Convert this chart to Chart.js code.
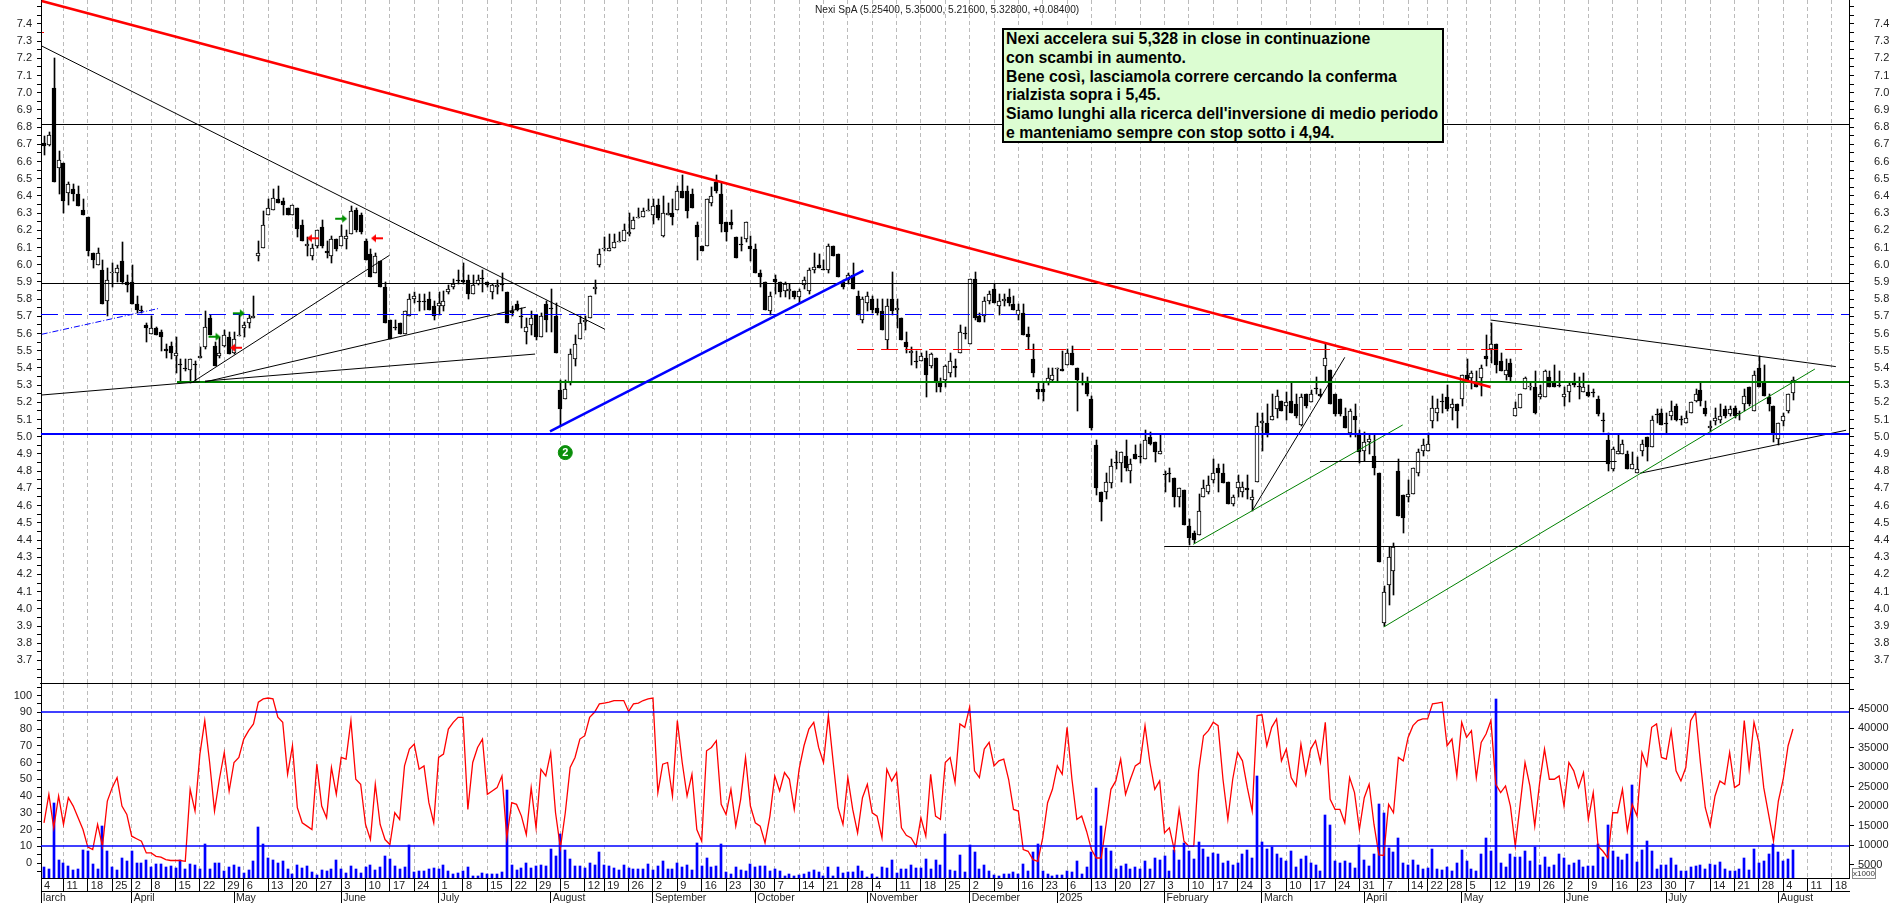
<!DOCTYPE html>
<html>
<head>
<meta charset="utf-8">
<title>Nexi SpA</title>
<script src="https://cdn.jsdelivr.net/npm/chart.js@4"></script>
<style>
html,body{margin:0;padding:0;background:#fff;overflow:hidden}
#page{position:relative;width:1890px;height:903px;font-family:"Liberation Sans",Arial,sans-serif}
canvas{position:absolute;left:0;display:block}
#title{position:absolute;left:815px;top:4px;font-size:10.2px;line-height:12px;color:#222;white-space:nowrap}
#note{position:absolute;left:1002px;top:28px;width:436px;height:111px;padding:0 0 0 2px;background:#dcfdd2;border:2px solid #000;font-size:15.8px;font-weight:bold;line-height:18.8px;color:#000;white-space:nowrap}
#mult{position:absolute;left:1852px;top:868px;width:22px;height:9px;border:1px solid #888;font-size:8px;line-height:9px;color:#333;text-align:center}
</style>
</head>
<body>
<div id="page">
<canvas id="priceChart" width="1890" height="684" style="top:0"></canvas>
<canvas id="lowerChart" width="1890" height="219" style="top:684px"></canvas>
<div id="title">Nexi SpA (5.25400, 5.35000, 5.21600, 5.32800, +0.08400)</div>
<div id="note">Nexi accelera sui 5,328 in close in continuazione<br>con scambi in aumento.<br>Bene così, lasciamola correre cercando la conferma<br>rialzista sopra i 5,45.<br>Siamo lunghi alla ricerca dell'inversione di medio periodo<br>e manteniamo sempre con stop sotto i 4,94.</div>
<div id="mult">x1000</div>
</div>
<script>
var opens = [6.71,6.695,7.03,6.56,6.59,6.42,6.44,6.41,6.32,6.28,6.07,6.0,5.97,5.79,5.95,5.95,6.02,5.90,5.90,5.77,
5.735,5.65,5.60,5.63,5.61,5.51,5.53,5.47,5.42,5.4,5.39,5.42,5.46,5.52,5.69,5.53,5.47,5.53,5.58,5.49,
5.585,5.63,5.66,5.69,6.05,6.10,6.29,6.32,6.38,6.37,6.33,6.29,6.33,6.23,6.11,6.05,6.11,6.22,6.08,6.05,
6.15,6.11,6.15,6.18,6.32,6.29,6.14,6.06,5.95,6.02,5.87,5.68,5.64,5.66,5.6,5.7,5.8,5.79,5.79,5.8,
5.76,5.76,5.76,5.84,5.87,5.91,5.91,5.91,5.83,5.89,5.92,5.9,5.84,5.87,5.89,5.84,5.73,5.77,5.70,5.61,
5.65,5.71,5.58,5.77,5.75,5.70,5.27,5.22,5.31,5.45,5.57,5.67,5.69,5.86,6.0,6.09,6.08,6.10,6.13,6.14,
6.18,6.21,6.27,6.28,6.31,6.29,6.35,6.17,6.29,6.30,6.32,6.43,6.43,6.41,6.23,6.11,6.11,6.36,6.48,6.41,
6.25,6.25,6.16,6.12,6.15,6.11,6.09,5.95,5.90,5.73,5.92,5.90,5.85,5.85,5.85,5.81,5.88,5.85,5.97,6.0,
5.975,5.97,6.11,6.06,5.90,5.91,5.94,5.82,5.68,5.78,5.80,5.75,5.73,5.56,5.80,5.74,5.69,5.55,5.49,5.44,
5.44,5.46,5.41,5.46,5.32,5.33,5.37,5.41,5.49,5.60,5.54,5.92,5.70,5.70,5.79,5.86,5.76,5.79,5.81,5.77,
5.71,5.72,5.60,5.45,5.28,5.28,5.31,5.33,5.395,5.395,5.42,5.49,5.40,5.32,5.31,5.22,4.95,4.68,4.68,4.73,
4.85,4.85,4.89,4.80,4.90,4.89,4.87,5.0,4.97,4.90,4.78,4.79,4.76,4.65,4.69,4.48,4.44,4.43,4.65,4.68,
4.75,4.82,4.79,4.74,4.61,4.70,4.68,4.70,4.63,4.74,5.08,5.08,5.10,5.16,5.21,5.18,5.21,5.19,5.07,5.25,
5.20,5.28,5.25,5.41,5.39,5.25,5.22,5.12,5.02,5.12,5.01,4.92,4.97,4.89,4.79,3.92,4.14,4.22,4.80,4.66,
4.65,4.67,4.79,4.92,4.92,5.09,5.14,5.21,5.23,5.17,5.19,5.22,5.36,5.34,5.31,5.34,5.47,5.51,5.54,5.44,
5.36,5.43,5.12,5.17,5.28,5.29,5.29,5.23,5.23,5.35,5.31,5.30,5.23,5.26,5.31,5.295,5.26,5.26,5.26,5.22,
5.095,4.98,4.81,4.90,4.90,4.90,4.81,4.79,4.92,5.0,4.94,5.13,5.14,5.08,5.12,5.18,5.10,5.08,5.14,5.21,
5.27,5.17,5.05,5.09,5.10,5.16,5.13,5.17,5.135,5.19,5.29,5.15,5.40,5.31,5.23,5.18,4.99,5.09,5.15,5.254];
var highs = [6.75,6.77,7.2,6.66,6.59,6.48,6.47,6.46,6.38,6.28,6.07,6.10,6.03,5.98,6.01,6.0,6.13,5.94,6.0,5.82,
5.76,5.66,5.7,5.64,5.62,5.54,5.55,5.58,5.45,5.45,5.45,5.44,5.52,5.73,5.71,5.55,5.58,5.62,5.61,5.61,
5.71,5.67,5.71,5.82,6.14,6.31,6.38,6.44,6.46,6.39,6.33,6.35,6.33,6.26,6.16,6.12,6.2,6.26,6.14,6.17,
6.15,6.23,6.2,6.34,6.33,6.30,6.15,6.09,6.07,6.02,5.90,5.68,5.68,5.66,5.73,5.83,5.84,5.83,5.83,5.84,
5.79,5.84,5.85,5.88,5.92,5.97,6.01,5.94,5.94,5.94,5.97,5.9,5.89,5.91,5.955,5.84,5.76,5.79,5.75,5.69,
5.73,5.71,5.72,5.79,5.86,5.78,5.33,5.33,5.51,5.59,5.70,5.70,5.82,5.91,6.09,6.16,6.18,6.18,6.19,6.24,
6.30,6.28,6.33,6.33,6.38,6.38,6.38,6.40,6.36,6.38,6.46,6.52,6.46,6.44,6.25,6.11,6.38,6.45,6.52,6.48,
6.25,6.32,6.16,6.16,6.25,6.17,6.12,5.97,5.90,5.84,5.94,5.90,5.90,5.89,5.85,5.86,5.93,5.98,6.07,6.06,
6.03,6.12,6.11,6.06,5.91,5.95,6.01,5.85,5.81,5.84,5.82,5.80,5.80,5.80,5.96,5.80,5.69,5.61,5.52,5.50,
5.49,5.50,5.49,5.46,5.34,5.42,5.49,5.45,5.65,5.64,5.92,5.96,5.72,5.81,5.85,5.89,5.83,5.83,5.86,5.82,
5.77,5.77,5.64,5.54,5.31,5.31,5.40,5.40,5.40,5.50,5.51,5.53,5.40,5.37,5.35,5.24,4.98,4.68,4.79,4.87,
4.92,4.91,4.98,4.87,4.95,4.96,5.04,5.03,4.97,5.01,4.80,4.82,4.76,4.70,4.69,4.52,4.45,4.67,4.75,4.77,
4.87,4.84,4.84,4.74,4.66,4.78,4.74,4.78,4.69,5.14,5.14,5.19,5.25,5.27,5.21,5.26,5.31,5.25,5.25,5.25,
5.27,5.35,5.28,5.54,5.39,5.25,5.22,5.17,5.16,5.19,5.04,5.03,5.01,5.01,4.79,4.13,4.36,4.38,4.87,4.66,
4.75,4.82,4.93,4.99,5.02,5.24,5.22,5.25,5.30,5.22,5.19,5.36,5.45,5.38,5.38,5.42,5.59,5.66,5.54,5.49,
5.45,5.45,5.20,5.25,5.35,5.32,5.38,5.30,5.39,5.38,5.42,5.38,5.29,5.32,5.37,5.35,5.37,5.30,5.28,5.24,
5.14,5.02,4.94,5.01,4.98,4.92,4.91,4.88,4.98,5.0,5.12,5.16,5.16,5.14,5.21,5.19,5.12,5.15,5.20,5.28,
5.31,5.21,5.09,5.17,5.19,5.18,5.18,5.18,5.15,5.28,5.29,5.38,5.47,5.42,5.25,5.18,5.08,5.14,5.25,5.35];
var lows = [6.64,6.69,6.48,6.41,6.30,6.35,6.37,6.34,6.29,6.05,5.98,6.0,5.77,5.70,5.87,5.9,5.89,5.84,5.77,5.72,
5.72,5.55,5.6,5.59,5.5,5.46,5.45,5.37,5.32,5.38,5.31,5.32,5.46,5.51,5.59,5.41,5.46,5.52,5.48,5.48,
5.585,5.58,5.63,5.69,6.02,6.10,6.29,6.32,6.36,6.29,6.29,6.29,6.16,6.14,6.05,6.03,6.10,6.10,6.04,6.01,
6.08,6.11,6.09,6.18,6.19,6.18,6.03,5.93,5.95,5.87,5.66,5.57,5.62,5.6,5.6,5.7,5.78,5.73,5.74,5.74,
5.68,5.71,5.73,5.83,5.86,5.89,5.89,5.80,5.83,5.88,5.84,5.87,5.80,5.83,5.85,5.66,5.70,5.73,5.63,5.54,
5.59,5.56,5.58,5.61,5.61,5.49,5.06,5.22,5.30,5.41,5.57,5.62,5.69,5.83,5.99,6.08,6.08,6.10,6.13,6.14,
6.17,6.21,6.27,6.28,6.31,6.24,6.26,6.16,6.29,6.23,6.32,6.39,6.27,6.33,6.03,6.08,6.11,6.34,6.42,6.19,
6.14,6.21,6.04,6.08,6.13,6.02,5.95,5.87,5.74,5.71,5.83,5.81,5.81,5.80,5.80,5.78,5.86,5.83,5.95,5.98,
5.97,5.95,6.05,5.93,5.86,5.89,5.86,5.71,5.66,5.73,5.72,5.71,5.62,5.51,5.71,5.63,5.56,5.49,5.42,5.40,
5.44,5.23,5.40,5.26,5.26,5.29,5.35,5.35,5.49,5.57,5.54,5.68,5.67,5.67,5.77,5.78,5.71,5.76,5.76,5.74,
5.68,5.59,5.51,5.35,5.22,5.21,5.30,5.32,5.32,5.38,5.42,5.42,5.15,5.30,5.24,5.04,4.66,4.51,4.64,4.70,
4.81,4.74,4.80,4.73,4.87,4.85,4.87,4.955,4.855,4.90,4.68,4.74,4.59,4.59,4.49,4.37,4.38,4.43,4.65,4.67,
4.73,4.68,4.73,4.61,4.60,4.65,4.65,4.64,4.57,4.74,4.92,5.0,5.10,5.11,5.15,5.10,5.14,5.11,5.06,5.17,
5.20,5.25,5.23,5.32,5.19,5.12,5.12,5.05,5.0,5.0,4.85,4.86,4.90,4.78,4.27,3.90,4.02,4.08,4.54,4.44,
4.62,4.67,4.77,4.89,4.92,5.05,5.09,5.14,5.15,5.10,5.05,5.18,5.32,5.28,5.29,5.24,5.41,5.43,5.37,5.38,
5.33,5.32,5.12,5.17,5.28,5.27,5.13,5.22,5.23,5.29,5.29,5.29,5.18,5.20,5.29,5.22,5.26,5.23,5.23,5.12,
5.03,4.80,4.80,4.90,4.90,4.81,4.81,4.79,4.89,4.86,4.94,5.08,5.07,5.02,5.10,5.09,5.07,5.08,5.14,5.20,
5.18,5.12,5.03,5.07,5.08,5.11,5.12,5.11,5.10,5.15,5.18,5.15,5.29,5.24,5.15,4.97,4.95,5.06,5.14,5.216];
var closes = [6.69,6.755,6.48,6.61,6.37,6.47,6.41,6.34,6.29,6.08,6.03,6.07,5.77,5.91,5.96,5.98,5.90,5.88,5.77,5.74,
5.73,5.63,5.63,5.59,5.58,5.50,5.49,5.49,5.415,5.395,5.45,5.415,5.47,5.64,5.59,5.41,5.49,5.59,5.48,5.57,
5.59,5.65,5.69,5.70,6.07,6.23,6.33,6.39,6.36,6.35,6.29,6.35,6.21,6.14,6.12,6.10,6.2,6.11,6.07,6.15,
6.09,6.17,6.17,6.31,6.2,6.19,6.03,5.93,6.05,5.87,5.66,5.57,5.635,5.6,5.73,5.8,5.82,5.785,5.785,5.74,
5.7,5.78,5.79,5.86,5.89,5.905,5.90,5.83,5.88,5.91,5.915,5.88,5.88,5.88,5.885,5.66,5.72,5.74,5.695,5.64,
5.69,5.58,5.70,5.68,5.745,5.49,5.16,5.28,5.48,5.54,5.66,5.68,5.82,5.87,6.06,6.095,6.10,6.13,6.14,6.20,
6.19,6.26,6.275,6.31,6.315,6.34,6.27,6.30,6.30,6.28,6.43,6.39,6.31,6.33,6.16,6.08,6.38,6.40,6.43,6.24,
6.19,6.23,6.04,6.115,6.25,6.09,5.95,5.93,5.74,5.82,5.90,5.84,5.89,5.86,5.81,5.85,5.91,5.97,5.99,5.98,
5.97,6.11,6.05,5.93,5.87,5.94,5.86,5.71,5.80,5.82,5.74,5.72,5.62,5.76,5.73,5.75,5.56,5.52,5.50,5.435,
5.47,5.36,5.48,5.32,5.29,5.41,5.44,5.40,5.61,5.595,5.92,5.69,5.67,5.79,5.83,5.78,5.79,5.80,5.78,5.74,
5.74,5.59,5.58,5.37,5.26,5.26,5.34,5.36,5.40,5.385,5.49,5.42,5.33,5.31,5.25,5.05,4.70,4.62,4.74,4.83,
4.845,4.91,4.82,4.84,4.87,4.88,4.98,4.96,4.91,4.92,4.775,4.785,4.65,4.70,4.49,4.41,4.40,4.57,4.70,4.72,
4.79,4.79,4.73,4.61,4.65,4.74,4.71,4.69,4.65,5.06,5.09,5.02,5.12,5.24,5.15,5.20,5.14,5.12,5.23,5.18,
5.25,5.275,5.24,5.46,5.19,5.13,5.13,5.05,5.15,5.10,4.91,4.97,4.99,4.82,4.27,4.10,4.30,4.36,4.54,4.53,
4.67,4.82,4.91,4.95,4.96,5.17,5.17,5.205,5.16,5.19,5.15,5.36,5.32,5.37,5.29,5.40,5.45,5.54,5.42,5.38,
5.39,5.35,5.17,5.25,5.34,5.295,5.14,5.25,5.38,5.29,5.29,5.295,5.25,5.30,5.30,5.29,5.29,5.24,5.255,5.13,
5.09,4.84,4.93,4.92,4.96,4.81,4.84,4.81,4.96,4.94,5.10,5.125,5.07,5.075,5.15,5.10,5.095,5.11,5.20,5.25,
5.21,5.13,5.06,5.11,5.12,5.12,5.16,5.12,5.13,5.24,5.19,5.36,5.29,5.24,5.19,5.02,5.08,5.12,5.25,5.328];

var oscillator = [24,41,21,40,23,39,34,27,20,9.5,8,23,10,37,45,51,34,29,16,14.5,
13,6,6,4,3.5,2,1.5,1.5,1.5,1,44,31,65,85,60,31,50,66,43,60,
63,74,79,83,96,98,98.5,98,87,84,53,70,33,24,22,20,59,34,27,57,
41,63,62,85,50,47,23,14,47,23,14,11,30,26,58,68,71,56,58,36,
24,63,65,80,84,87,87,32,60,69,74,41,43,45,52,15,36,35,28,17,
45,21,56,52,66,30,9,30,57,63,74,76,87,90,95,95.5,96,97,97,97,
90.5,95,95.5,97,98,98.5,42,59,60,40,85,60,40,53,20,13,67,69,73,35,
29,44,22,38,63,34,24,22,12,28,52,43,54,50,32,56,70,80,84,69,
60,88,60,33,23,51,32,18,39,47,30,28,15,56,49,54,21,16.5,15,10,
27,16,53,28,26,60,63,48,83,81,93,55,51,68,72,58,61,62,50,32,
31,8,7,2,1,15,36,44,58,53,81,50,26,28,19,8,3,3,23,44,
49,62,41,50,58,60,82,60,44,49,18,21,8,32,13,10,10,55,76,79,
84,82,50,26,50,66,61,45,31,88,88.5,70,81,86,61,68,51,46,71,53,
68,73,60,84,38,32,32,24,51,42,20,39,47,23,4.8,4.5,35,30,63,61,
75,82,85,86,86,95,95.5,96,70,74,52,84,75,79,51,72,77,85,47,42,
46,34,10,35,60,46,22,48,68,50,50,52,34,60,55,45,54,26,42,10,
7,3,30,30,44,19,35,28,66,58,81,83,63,62,79,55,49,57,85,90,
60,33,22,40,49,47,66,45,47,85,56,84,72,45,29,13,37,50,70,80];

var volumes = [4.5,4,20.8,6.4,5.6,4.7,3.7,4.1,8.8,8.5,5.2,3.9,15,8.5,4.5,3.7,6.9,5.9,8.5,5.6,
5.4,6.4,4.5,5.2,5.2,4.5,4.7,4.2,6.2,3.9,5.2,5.1,4,10.3,3.9,5.6,5.4,3.4,4.4,5.1,
4.5,2.9,3.7,6,14.7,10.5,6.8,6.2,5.6,6,4.1,2.7,5,4.3,4.7,3.3,2.5,3.7,3.4,4.1,
6.4,3.9,2.9,4.7,3.9,2.9,4.5,5,3.7,4.5,7.3,6.5,4.7,3.9,4.5,10,3.3,3.4,3.4,3.9,
4.2,3.9,5,3.4,2.7,3,3.4,4.4,2.3,2.3,2.9,2.6,2.7,2.7,3.3,24.2,5,3.7,4.3,5.5,
4.2,4.7,5,4.8,9.2,7.2,12.9,8.8,6.5,4.7,4.7,4.3,5.5,5,8.2,5,4.7,4.3,3.7,
5,4.3,4.1,3.9,3.9,5.2,3.7,4.7,5.9,3.9,
4.1,5.4,4.5,5,3.7,10.6,4.8,6.9,4.5,4.7,
10.3,3.2,2.8,4.6,3.7,3.5,5.3,4.4,4.7,4.7,
3.4,3.9,3.4,2.2,2.7,2.3,2.4,2.7,3.2,3.6,
3.2,2.2,4.4,2.3,4.4,3,3.1,3.1,4.8,3.4,
2,2.7,2,4.6,4.3,6.2,2.9,3.9,4.1,5,
4.2,4.2,6.5,3.9,6.2,5,13,3.6,3.4,7.5,
3.2,10.2,8.3,3.9,5,3.4,2.4,2.2,2.7,2.7,
3.2,2.6,5.2,3.4,8.3,10.5,3.4,2.7,2.3,2.4,
2.4,3.4,3.2,6,2.6,4.4,8.4,24.7,15,9.4,
8.5,3.9,4.7,5.2,3.9,4.4,4.1,6,3.9,6.8,
6.2,7.4,3.5,8.8,6.2,10.6,8.5,6.5,10.9,9,
7.1,8,7.7,5.6,6,5,5.6,
7.8,8.8,6.9,27.8,10.9,9.2,9.7,7.7,6.8,6.1,8.5,4.6,6.6,7.4,5.4,5,3.4,17.8,15.2,6,
5.6,6,5.6,4.3,10,6.4,4.7,7.8,20.6,18.3,9.3,8.3,11.9,5.6,5,6.2,5.1,3.9,4.2,9,
3.9,3.8,4.6,3.4,5.5,8.8,6,3.9,3.5,7.7,11.8,8.5,47.6,5.6,4.4,7.9,7.1,7,8.5,6,
9.7,5,7,4.6,5.1,7.7,6.8,4.9,5.4,6.4,4.6,4.7,4.7,10.3,7,15.2,8.5,7,6.2,7.9,
25.6,5.8,8.8,11.1,8.5,3.9,5,5,6.7,5,3.4,3.4,4.5,4.8,5.1,3.9,5.2,5,5.7,3.9,
3.4,3.4,3.9,6.9,3.7,9.2,5.4,5.9,7.7,10.5,8.2,5.9,6.5,8.8];

// weekly grid: bar number of each labelled date
var weekBars = [-0.6,4,9,14,18,22,27,32,37,41,46,51,56,61,66,71,76,81,86,91,96,101,106,111,115,120,
125,130,135,140,145,150,155,160,165,170,175,180,185,190,195,200,205,210,215,220,225,230,235,240,245,
250,255,260,265,270,275,280,284,288,292,297,302,307,312,317,322,327,332,337,342,347,352,357,362,367];
var weekLabels = ["4","11","18","25","2","8","15","22","29","6","13","20","27","3","10","17","24","1","8","15","22","29","5","12","19","26",
"2","9","16","23","30","7","14","21","28","4","11","18","25","2","9","16","23","6","13","20","27","3","10","17","24",
"3","10","17","24","31","7","14","22","28","5","12","19","26","2","9","16","23","30","7","14","21","28","4","11","18"];
var monthBars = [-0.6,18,39,61,81,104,125,146,169,190,208,230,250,271,291,312,333,356];
var monthLabels = ["larch","April","May","June","July","August","September","October","November","December","2025","February","March","April","May","June","July","August"];

// levels and trend lines, as [bar, price]
var redTrend = [[-0.47,7.534],[296.9,5.29]];
var redStub = [[-0.4,7.353],[0,7.353]];
var longFall = [[-0.47,7.272],[115.15,5.625]];
var earlyRise = [[-0.47,5.243],[32,5.32]];
var fanA = [[30.6,5.32],[70.9,6.055]];
var fanB = [[33.05,5.319],[98.9,5.753]];
var fanC = [[33.05,5.324],[100.8,5.481]];
var dottedBlue = [[-0.47,5.596],[23.67,5.747]];
var blueTrend = [[103.86,5.032],[168.2,5.966]];
var redDashed = [[166.9,5.509],[303.6,5.509]];
var level681 = [[-0.62,6.817],[370.5,6.817]];
var level589 = [[-0.62,5.892],[370.5,5.892]];
var level571 = [[-0.62,5.712],[370.5,5.712]];
var level532 = [[27.3,5.319],[370.5,5.319]];
var level502 = [[-0.62,5.016],[370.5,5.016]];
var level486 = [[261.9,4.857],[322.8,4.857]];
var level436 = [[229.95,4.363],[370.5,4.363]];
var greenA = [[235.9,4.375],[278.9,5.069]];
var blackB = [[248,4.57],[267,5.462]];
var greenC = [[275,3.894],[363.5,5.394]];
var blackD = [[296.9,5.679],[367.8,5.408]];
var blackE = [[327.6,4.788],[369.9,5.038]];
var greenArrows = [[61,6.268],[35,5.582],[40,5.718]];
var redArrows = [[55.2,6.154],[68.35,6.154],[39.4,5.518]];
var signalTwo = [[107,4.908]];
var oscLevels = [90,10];

function toPoints(list){
	return list.map(function(p){ return {x:p[0],y:p[1]}; });
}

function trend(list,color,width,dash){
	return {type:"line",data:toPoints(list),borderColor:color,borderWidth:width,borderDash:dash||[],pointRadius:0,tension:0,order:1};
}

function makeArrow(color,right){
	var c = document.createElement("canvas");
	c.width = 14; c.height = 10;
	var g = c.getContext("2d");
	g.strokeStyle = color; g.fillStyle = color; g.lineWidth = 2;
	if(!right){ g.translate(14,0); g.scale(-1,1); }
	g.beginPath(); g.moveTo(1,5); g.lineTo(9,5); g.stroke();
	g.beginPath(); g.moveTo(8,1); g.lineTo(13,5); g.lineTo(8,9); g.closePath(); g.fill();
	return c;
}

// keep candles and bars on whole pixels like the original
var snapPlugin = {
	id:"snap",
	afterDatasetsUpdate:function(chart){
		chart.data.datasets.forEach(function(ds,k){
			var meta = chart.getDatasetMeta(k);
			if(meta.type==="bar"){
				meta.data.forEach(function(b){
					b.x = Math.round(b.x)+(ds.barThickness===1?0.5:0);
					b.y = Math.round(b.y);
					b.base = Math.round(b.base);
					if(b.y===b.base){ b.y = b.base-1; }
				});
			}else if(meta.type==="line" && meta.data.length===2 && Math.abs(meta.data[0].y-meta.data[1].y)<0.01){
				var y = Math.round(meta.data[0].y)+(ds.borderWidth===1?0.5:0);
				meta.data[0].y = y; meta.data[1].y = y;
			}
		});
	}
};

// the white figure inside the green signal dot
var dotLabelPlugin = {
	id:"dotLabel",
	afterDraw:function(chart){
		var ctx = chart.ctx, x = chart.scales.x.getPixelForValue(signalTwo[0][0]), y = chart.scales.y.getPixelForValue(signalTwo[0][1]);
		ctx.save();
		ctx.fillStyle = "#fff";
		ctx.font = "bold 11px 'Liberation Sans'";
		ctx.textAlign = "center";
		ctx.textBaseline = "middle";
		ctx.fillText("2",x,y+0.5);
		ctx.restore();
	}
};

var xMin = -0.616, xMax = 370.5;
var gridColor = "#bbbbbb";
var bars = opens.map(function(v,i){ return i; });
var bodyFill = closes.map(function(c,i){ return c>=opens[i]?"#ffffff":"#000000"; });

// no label margins, the plot has to fill the canvas exactly
function fitY(s){
	s.width = 41;
	s.paddingTop = 0; s.paddingBottom = 0;
}
function fitX(h){
	return function(s){
		s.height = h;
		s.paddingLeft = 0; s.paddingRight = 0;
	};
}

function leftAxis(min,max,step,label){
	return {position:"left",min:min,max:max,
		afterFit:fitY,
		grid:{drawOnChartArea:false,tickLength:4,tickColor:"#000"},
		border:{display:true,color:"#000",width:1},
		ticks:{stepSize:step,includeBounds:false,autoSkip:false,padding:5,color:"#222",font:{family:"Liberation Sans",size:11},callback:label}};
}

function rightAxis(min,max,step,label,pad){
	return {position:"right",min:min,max:max,
		afterFit:fitY,
		grid:{drawOnChartArea:false,tickLength:5,tickColor:"#000"},
		border:{display:true,color:"#000",width:1},
		ticks:{stepSize:step,includeBounds:false,autoSkip:false,padding:pad,color:"#222",font:{family:"Liberation Sans",size:11},callback:label}};
}

function priceLabel(v){
	var t = Math.round(v*100);
	return (t%10===0 && t>=370 && t<=740)?(t/100).toFixed(1):"";
}
function oscLabel(v){
	return (v%10===0 && v>=0 && v<=100)?String(v):"";
}
function volLabel(v){
	return (v>=5 && v<=45)?String(v*1000):"";
}
function setWeekTicks(s){
	s.ticks = weekBars.map(function(v){ return {value:v}; });
}
function setMonthTicks(s){
	s.ticks = monthBars.map(function(v){ return {value:v}; });
}

var arrowGreen = makeArrow("#009000",true), arrowRed = makeArrow("#ff0000",false);

var priceSets = [
	trend(redTrend,"#ff0000",2.5),
	trend(redStub,"#ff0000",1),
	trend(longFall,"#000",1),
	trend(earlyRise,"#000",1),
	trend(fanA,"#000",1),
	trend(fanB,"#000",1),
	trend(fanC,"#000",1),
	trend(dottedBlue,"#0000ff",1,[6,2,1,2]),
	trend(blueTrend,"#0000ff",2.5),
	trend(redDashed,"#ff0000",1,[17,7]),
	trend(level681,"#000",1),
	trend(level589,"#000",1),
	trend(level571,"#0000ff",1,[17,7]),
	trend(level532,"#008000",2),
	trend(level502,"#0000ff",2),
	trend(level486,"#000",1),
	trend(level436,"#000",1),
	trend(greenA,"#008000",1),
	trend(blackB,"#000",1),
	trend(greenC,"#008000",1),
	trend(blackD,"#000",1),
	trend(blackE,"#000",1),
	{type:"scatter",data:toPoints(greenArrows),pointStyle:arrowGreen,pointRadius:6,order:0},
	{type:"scatter",data:toPoints(redArrows),pointStyle:arrowRed,pointRadius:6,order:0},
	{type:"scatter",data:toPoints(signalTwo),pointStyle:"circle",pointRadius:7,pointBackgroundColor:"#0a8f0a",pointBorderColor:"#0a8f0a",order:0},
	{type:"bar",data:bars.map(function(i){ return {x:i,y:[opens[i],closes[i]]}; }),barThickness:4,grouped:false,minBarLength:1,backgroundColor:bodyFill,borderColor:"#000",borderWidth:1,borderSkipped:false,order:2},
	{type:"bar",data:bars.map(function(i){ return {x:i,y:[lows[i],highs[i]]}; }),barThickness:1,grouped:false,backgroundColor:"#000",borderWidth:0,order:3}
];

var priceChart = new Chart(document.getElementById("priceChart"),{
	type:"bar",
	data:{datasets:priceSets},
	plugins:[snapPlugin,dotLabelPlugin],
	options:{
		responsive:false,animation:false,devicePixelRatio:1,
		layout:{padding:0,autoPadding:false},
		plugins:{legend:{display:false},tooltip:{enabled:false},title:{display:false}},
		scales:{
			x:{type:"linear",min:xMin,max:xMax,offset:false,
				afterBuildTicks:setWeekTicks,
				afterFit:fitX(0),
				grid:{offset:false,color:gridColor,drawTicks:false},
				border:{display:true,color:"#000",width:1.5,dash:[4,3]},
				ticks:{display:false,autoSkip:false}},
			y:leftAxis(3.5628,7.5395,0.05,priceLabel),
			y2:rightAxis(3.5628,7.5395,0.05,priceLabel,20)
		}
	}
});

var lowerSets = [
	{type:"line",data:toPoints([[xMin,oscLevels[0]],[xMax,oscLevels[0]]]),borderColor:"#0000ff",borderWidth:1.5,pointRadius:0,order:0},
	{type:"line",data:toPoints([[xMin,oscLevels[1]],[xMax,oscLevels[1]]]),borderColor:"#0000ff",borderWidth:1.5,pointRadius:0,order:0},
	{type:"line",data:bars.map(function(i){ return {x:i,y:oscillator[i]}; }),borderColor:"#ff0000",borderWidth:1.3,pointRadius:0,tension:0,order:1},
	{type:"bar",data:bars.map(function(i){ return {x:i,y:volumes[i]}; }),yAxisID:"yv",barThickness:2,backgroundColor:"#0000ff",borderWidth:0,order:2}
];

var lowerChart = new Chart(document.getElementById("lowerChart"),{
	type:"bar",
	data:{datasets:lowerSets},
	plugins:[snapPlugin],
	options:{
		responsive:false,animation:false,devicePixelRatio:1,
		layout:{padding:0,autoPadding:false},
		plugins:{legend:{display:false},tooltip:{enabled:false},title:{display:false}},
		scales:{
			x:{type:"linear",position:"bottom",min:xMin,max:xMax,offset:false,weight:0,
				afterBuildTicks:setWeekTicks,
				afterFit:fitX(13),
				grid:{offset:false,color:gridColor,tickColor:"#000",tickLength:13,tickBorderDash:[]},
				border:{display:true,color:"#000",width:1,dash:[4,3]},
				ticks:{autoSkip:false,maxRotation:0,minRotation:0,align:"start",labelOffset:3,padding:-12,color:"#222",font:{family:"Liberation Sans",size:11},
					callback:function(v,i){ return weekLabels[i]; }}},
			xm:{type:"linear",position:"bottom",min:xMin,max:xMax,offset:false,weight:1,
				afterBuildTicks:setMonthTicks,
				afterFit:fitX(12),
				grid:{offset:false,drawOnChartArea:false,tickColor:"#000",tickLength:12},
				border:{display:true,color:"#000",width:1},
				ticks:{autoSkip:false,maxRotation:0,minRotation:0,align:"start",labelOffset:2,padding:-11.5,color:"#222",font:{family:"Liberation Sans",size:10.5},
					callback:function(v,i){ return monthLabels[i]; }}},
			y:leftAxis(-8.955,106.87,5,oscLabel),
			yv:rightAxis(1.673,51.32,5,volLabel,4)
		}
	}
});
</script>
</body>
</html>
